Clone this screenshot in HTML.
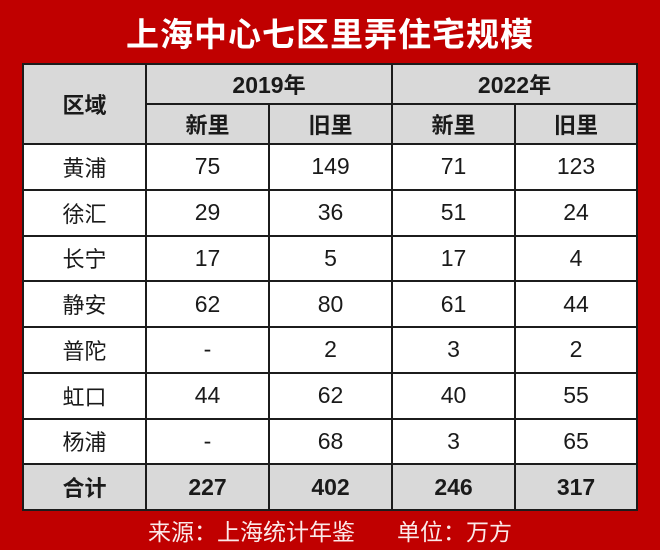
<!DOCTYPE html>
<html><head><meta charset="utf-8">
<style>
html,body{margin:0;padding:0;}
body{width:660px;height:550px;background:#c00000;position:relative;overflow:hidden;font-family:"Liberation Sans","Noto Sans CJK SC",sans-serif;}
.title{position:absolute;left:0;top:8px;width:660px;text-align:center;color:#fff;font-weight:bold;font-size:33px;line-height:48px;letter-spacing:1px;font-family:"Noto Sans CJK SC","Liberation Sans",sans-serif;}
table{position:absolute;left:22px;top:63px;width:614px;border-collapse:collapse;table-layout:fixed;background:#fff;}
td{border:2px solid #1c1c1c;text-align:center;padding:0;font-size:23px;color:#1a1a1a;}
td.h{background:#d9d9d9;font-weight:bold;}
tr.hd td{height:38px;}
tr.r td{height:43.75px;}
.cj{font-family:"Noto Sans CJK SC",sans-serif;font-size:22px;}
.foot{position:absolute;left:0;top:514px;width:660px;color:#fbe9e9;font-size:23px;line-height:32px;font-family:"Noto Sans CJK SC","Liberation Sans",sans-serif;}
.foot span{position:absolute;top:0;white-space:nowrap;}
</style></head><body>
<div class="title">上海中心七区里弄住宅规模</div>
<table>
<colgroup><col style="width:123px"><col style="width:123px"><col style="width:123px"><col style="width:123px"><col style="width:122px"></colgroup>
<tr class="hd"><td class="h cj" rowspan="2" style="font-weight:bold">区域</td><td class="h" colspan="2">2019<span class="cj" style="font-weight:bold">年</span></td><td class="h" colspan="2">2022<span class="cj" style="font-weight:bold">年</span></td></tr>
<tr class="hd"><td class="h cj">新里</td><td class="h cj">旧里</td><td class="h cj">新里</td><td class="h cj">旧里</td></tr>
<tr class="r"><td class="cj">黄浦</td><td>75</td><td>149</td><td>71</td><td>123</td></tr>
<tr class="r"><td class="cj">徐汇</td><td>29</td><td>36</td><td>51</td><td>24</td></tr>
<tr class="r"><td class="cj">长宁</td><td>17</td><td>5</td><td>17</td><td>4</td></tr>
<tr class="r"><td class="cj">静安</td><td>62</td><td>80</td><td>61</td><td>44</td></tr>
<tr class="r"><td class="cj">普陀</td><td>-</td><td>2</td><td>3</td><td>2</td></tr>
<tr class="r"><td class="cj">虹口</td><td>44</td><td>62</td><td>40</td><td>55</td></tr>
<tr class="r"><td class="cj">杨浦</td><td>-</td><td>68</td><td>3</td><td>65</td></tr>
<tr class="r"><td class="h cj">合计</td><td class="h">227</td><td class="h">402</td><td class="h">246</td><td class="h">317</td></tr>
</table>
<div class="foot"><span style="left:148px">来源：上海统计年鉴</span><span style="left:397px">单位：万方</span></div>
</body></html>
